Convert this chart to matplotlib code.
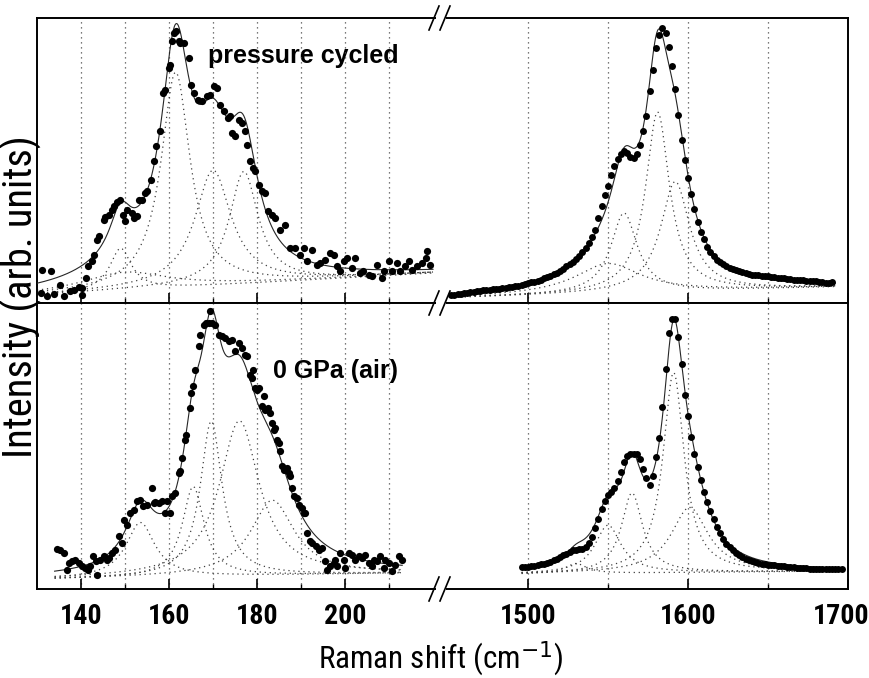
import numpy as np
import matplotlib
matplotlib.use('Agg')
import matplotlib.pyplot as plt
from matplotlib import font_manager
from matplotlib.font_manager import FontProperties
from matplotlib.lines import Line2D
from matplotlib.patches import Rectangle
from matplotlib.transforms import ScaledTranslation

# ---------------- data (arb. units, 0..285 per row) ----------------
# low wavenumber region, pressure cycled
tl_x = [130.8, 131.1, 132.3, 133.2, 133.8, 135.3, 136.1, 137.6, 138.3, 139.5, 140.2, 140.2,
        141.2, 141.7, 142.5, 143.0, 143.6, 144.0, 145.2, 145.5, 146.3, 147.0, 147.4, 148.2,
        148.9, 149.5, 150.0, 150.5, 151.6, 152.0, 152.7, 153.1, 153.9, 154.6, 155.0, 155.8,
        156.5, 157.0, 158.0, 158.6, 159.0, 160.0, 160.3, 160.7, 161.1, 161.7, 162.2, 162.6,
        163.3, 164.5, 165.0, 165.6, 166.7, 167.5, 168.6, 169.4, 170.2, 170.9, 171.7, 172.4,
        173.3, 173.9, 174.3, 175.1, 175.8, 176.6, 177.3, 177.7, 178.5, 179.2, 179.6, 180.4,
        181.1, 181.9, 182.6, 183.4, 184.2, 185.3, 186.4, 187.6, 188.7, 189.8, 190.6, 191.4,
        192.5, 193.6, 194.4, 195.5, 196.7, 197.4, 198.2, 198.9, 199.7, 200.4, 201.6, 202.3,
        203.5, 204.2, 205.4, 206.1, 207.3, 208.4, 208.8, 209.9, 210.7, 211.8, 212.6, 213.7,
        214.5, 215.2, 216.4, 217.5, 218.3, 218.6, 219.4]
tl_y = [10, 33, 7, 32, 9, 18, 7, 12, 13, 16, 15, 8,
        25, 37, 42, 48, 63, 67, 83, 86, 88, 93, 97, 101,
        103, 88, 82, 93, 90, 85, 87, 103, 103, 110, 112, 123,
        142, 157, 172, 210, 213, 235, 238, 262, 270, 272, 262, 260,
        260, 245, 218, 210, 203, 202, 207, 208, 217, 215, 198, 192,
        185, 187, 170, 167, 183, 180, 172, 158, 142, 135, 132, 118,
        112, 110, 92, 88, 85, 73, 78, 55, 55, 48, 55, 42,
        53, 38, 40, 43, 50, 48, 37, 32, 42, 45, 35, 45,
        30, 32, 28, 27, 38, 25, 32, 42, 32, 40, 32, 37,
        42, 33, 37, 40, 45, 52, 38]

# low wavenumber region, 0 GPa (air)
bl_x = [134.5, 135.3, 136.1, 136.8, 137.2, 138.0, 138.7, 139.5, 140.2, 141.0, 141.7, 142.1,
        142.7, 143.3, 143.6, 144.4, 145.2, 145.9, 146.3, 147.0, 147.8, 148.6, 149.3, 149.8,
        150.5, 151.2, 152.0, 152.7, 153.5, 154.2, 155.0, 156.1, 156.5, 156.9, 157.7, 158.4,
        159.2, 159.5, 160.3, 160.7, 161.4, 162.2, 162.6, 163.0, 163.7, 163.9, 164.7, 165.0,
        165.5, 165.8, 166.8, 167.1, 167.9, 168.3, 169.0, 169.4, 169.8, 170.5, 171.3, 172.0,
        172.8, 173.6, 174.3, 175.1, 175.8, 176.6, 177.3, 177.7, 178.5, 178.9, 179.2, 179.6,
        180.0, 180.4, 181.1, 181.5, 181.9, 182.6, 183.0, 183.4, 183.8, 184.2, 184.5, 184.9,
        185.3, 185.7, 186.1, 186.8, 187.2, 187.4, 187.9, 188.5, 189.1, 189.5, 190.2, 190.6,
        191.0, 191.4, 192.0, 192.5, 193.3, 194.0, 194.8, 195.5, 196.0, 196.7, 197.4, 197.8,
        198.2, 198.9, 199.7, 200.1, 200.8, 201.6, 202.3, 203.1, 203.9, 204.6, 205.4, 206.1,
        206.5, 207.3, 208.0, 208.8, 209.2, 209.9, 210.7, 211.4, 212.2, 212.9]
bl_y = [40, 39, 36, 19, 26, 28, 29, 26, 23, 21, 19, 23,
        33, 28, 14, 29, 33, 29, 31, 36, 39, 53, 46, 69,
        64, 76, 79, 88, 89, 83, 84, 101, 86, 87, 86, 88,
        76, 88, 76, 93, 96, 116, 118, 131, 149, 154, 181, 196,
        203, 219, 243, 254, 264, 266, 266, 278, 266, 264, 254, 253,
        251, 248, 249, 238, 246, 241, 234, 233, 214, 211, 219, 201,
        199, 201, 183, 193, 179, 181, 176, 166, 159, 161, 149, 146,
        138, 123, 119, 121, 116, 113, 101, 93, 91, 84, 81, 76,
        76, 56, 48, 46, 43, 39, 41, 28, 19, 23, 26, 29,
        23, 36, 29, 21, 36, 34, 29, 33, 31, 34, 26, 23,
        29, 28, 33, 21, 29, 26, 18, 24, 33, 29]

# G band region, pressure cycled
tr_x = list(range(1452, 1692, 2))
tr_y = [8, 8, 9, 9, 10, 10, 11, 11, 12, 12, 13, 13, 13, 14, 14, 14, 15, 15, 16, 16,
        17, 17, 18, 19, 20, 21, 21, 22, 23, 25, 26, 27, 29, 30, 32, 34, 37, 39, 41, 44,
        47, 51, 55, 60, 66, 73, 85, 97, 108, 117, 128, 137, 144, 149, 152, 150, 146, 145, 149, 158,
        172, 187, 212, 233, 255, 268, 275, 270, 256, 237, 214, 188, 163, 143, 125, 109, 94, 81, 71, 64,
        56, 51, 47, 43, 41, 39, 37, 35, 34, 33, 32, 31, 30, 29, 28, 28, 28, 27, 27, 27,
        26, 26, 25, 25, 25, 24, 24, 23, 23, 23, 23, 22, 22, 22, 22, 21, 21, 20, 20, 21]

# G band region, 0 GPa (air)
br_x = list(range(1496, 1698, 2))
br_y = [22, 22, 22, 23, 23, 24, 25, 25, 26, 27, 29, 30, 32, 34, 35, 37, 39, 39, 40, 40,
        42, 46, 52, 61, 70, 80, 88, 94, 97, 101, 108, 117, 127, 133, 135, 135, 135, 130, 120, 111,
        104, 113, 132, 151, 182, 220, 256, 270, 270, 252, 225, 194, 173, 152, 135, 122, 109, 97, 87, 78,
        70, 62, 56, 50, 45, 42, 39, 36, 34, 32, 30, 29, 28, 27, 26, 25, 25, 24, 24, 24,
        23, 23, 23, 22, 22, 22, 21, 21, 21, 21, 20, 20, 20, 20, 20, 20, 20, 20, 20, 20, 20]

# Lorentzian fit parameters
tl_pos, tl_hwhm, tl_amp = [149.0, 150.0, 161.5, 170.0, 177.0], [3.0, 12.0, 4.0, 5.0, 4.0], [42, 18, 215, 115, 112]
tl_base, tl_range = (8, 30), (130, 220)
bl_pos, bl_hwhm, bl_amp = [153.5, 165.5, 169.6, 176.0, 183.5], [4.0, 3.0, 3.0, 5.5, 6.0], [55, 90, 155, 155, 75]
bl_base, bl_range = (10, 16), (134, 213)
tr_pos, tr_hwhm, tr_amp = [1550, 1560, 1581, 1592], [25, 10, 9, 11], [30, 80, 180, 110]
tr_base, tr_range = (5, 16), (1451, 1692)
br_pos, br_hwhm, br_amp = [1530, 1550, 1565, 1591, 1601], [8, 10, 8, 8, 14], [10, 48, 80, 200, 65]
br_base, br_range = (15, 18), (1496, 1696)


# ---------------- fonts: look for a narrow / condensed face ----------------
def find_narrow(bold):
    prefs = ['liberationsansnarrow', 'arialn', 'arialnarrow', 'robotocondensed',
             'dejavusanscondensed', 'condensed', 'narrow']
    found = []
    for f in font_manager.fontManager.ttflist:
        fn = f.fname.lower().replace('-', '').replace('_', '').replace(' ', '')
        if 'italic' in fn or 'oblique' in fn or 'light' in fn or 'thin' in fn:
            continue
        if ('bold' in fn) != bold:
            continue
        for rank, p in enumerate(prefs):
            if p in fn:
                found.append((rank, f.fname))
                break
    if found:
        return FontProperties(fname=sorted(found)[0][1])
    return FontProperties(family='Liberation Sans', weight='bold' if bold else 'normal')


fp_reg = find_narrow(False)
fp_bold = find_narrow(True)


def lor(x, c, w, a):
    return a * w ** 2 / ((x - c) ** 2 + w ** 2)


def draw_panel(ax, xd, yd, pos, hwhm, amp, base, xr, ms):
    xs = np.linspace(xr[0], xr[1], 800)
    bl = base[0] + (base[1] - base[0]) * (xs - xr[0]) / (xr[1] - xr[0])
    total = bl.copy()
    for c, w, a in zip(pos, hwhm, amp):
        comp = lor(xs, c, w, a)
        total += comp
        ax.plot(xs, bl + comp, linestyle=(0, (1, 3)), color='0.25', lw=0.9, zorder=2)
    ax.plot(xs, total, color='0.15', lw=0.8, zorder=3)
    ax.plot(xd, yd, 'o', color='black', ms=ms, mew=0, zorder=4)


W, H = 869, 678
fig = plt.figure(figsize=(W / 100, H / 100), dpi=100)
renderer = fig.canvas.get_renderer()


def size_for(text, fp, target_px):
    # font size at which the text spans target_px
    t = fig.text(0, 0, text, fontproperties=fp.copy(), fontsize=20)
    bb = t.get_window_extent(renderer)
    t.remove()
    return 20 * target_px / bb.width


xl0, xb, xr1 = 37, 441, 848
rows = [(18, 303), (303, 589)]
axes = []
for top, bot in rows:
    axL = fig.add_axes([xl0 / W, 1 - bot / H, (xb - xl0) / W, (bot - top) / H])
    axR = fig.add_axes([xb / W, 1 - bot / H, (xr1 - xb) / W, (bot - top) / H])
    axL.set_xlim(130, 130 + (xb - xl0) / 4.4)
    axR.set_xlim(1700 - (xr1 - xb) / 1.6, 1700)
    for ax in (axL, axR):
        ax.set_ylim(0, bot - top)
        ax.set_yticks([])
        for s in ax.spines.values():
            s.set_linewidth(1.4)
    axL.spines['right'].set_visible(False)
    axR.spines['left'].set_visible(False)
    axL.set_xticks([140, 160, 180, 200])
    axL.set_xticks([150, 170, 190, 210], minor=True)
    axR.set_xticks([1500, 1600, 1700])
    axR.set_xticks([1550, 1650], minor=True)
    axes.append((axL, axR))

draw_panel(axes[0][0], tl_x, tl_y, tl_pos, tl_hwhm, tl_amp, tl_base, tl_range, 5.2)
draw_panel(axes[1][0], bl_x, bl_y, bl_pos, bl_hwhm, bl_amp, bl_base, bl_range, 5.2)
draw_panel(axes[0][1], tr_x, tr_y, tr_pos, tr_hwhm, tr_amp, tr_base, tr_range, 5.0)
draw_panel(axes[1][1], br_x, br_y, br_pos, br_hwhm, br_amp, br_base, br_range, 5.0)

tick_size = 1.18 * size_for('1500', fp_bold, 48)
for i, (axL, axR) in enumerate(axes):
    for ax in (axL, axR):
        ax.grid(axis='x', which='both', linestyle=(0, (1, 3)), color='0.3', lw=0.9, zorder=1)
        ax.set_axisbelow(True)
        ax.tick_params(axis='x', which='major', direction='in', length=7, width=1.2, pad=10)
        ax.tick_params(axis='x', which='minor', direction='in', length=3.5, width=1.0)
        if i == 0:
            ax.tick_params(axis='x', labelbottom=False)
        else:
            for lab in ax.get_xticklabels():
                lab.set_fontproperties(fp_bold.copy())
                lab.set_fontsize(tick_size)

# keep the last label inside the canvas
last = axes[1][1].xaxis.get_major_ticks()[-1].label1
last.set_transform(last.get_transform() + ScaledTranslation(-7 / 100, 0, fig.dpi_scale_trans))

axes[0][0].text(168.9, 240, 'pressure cycled', family=['Liberation Sans', 'DejaVu Sans'],
                fontsize=18, fontweight='bold', va='baseline', zorder=0)
axes[1][0].text(183.6, 211, '0 GPa (air)', family=['Liberation Sans', 'DejaVu Sans'],
                fontsize=18, fontweight='bold', va='baseline', zorder=0)

xlab_size = 1.06 * size_for(r'Raman shift (cm$^{-1}$)', fp_reg, 232)
fig.text(441 / W, 1 - 668 / H, r'Raman shift (cm$^{-1}$)', fontproperties=fp_reg.copy(),
         fontsize=xlab_size, ha='center', va='baseline')
ylab_size = 1.04 * size_for('Intensity (arb. units)', fp_reg, 309)
fig.text(21 / W, 1 - 297 / H, 'Intensity (arb. units)', fontproperties=fp_reg.copy(),
         fontsize=ylab_size, rotation=90, ha='center', va='center')

# axis break marks
for yb in (18, 303, 589):
    fig.add_artist(Rectangle(((xb - 5) / W, 1 - (yb + 3) / H), 10 / W, 6 / H,
                             transform=fig.transFigure, facecolor='white', edgecolor='none', zorder=10))
    for x0 in (xb - 12, xb - 1):
        fig.add_artist(Line2D([x0 / W, (x0 + 10) / W], [1 - (yb + 12) / H, 1 - (yb - 12) / H],
                              transform=fig.transFigure, color='black', lw=1.2, zorder=11))

fig.savefig('out.png', dpi=100)
